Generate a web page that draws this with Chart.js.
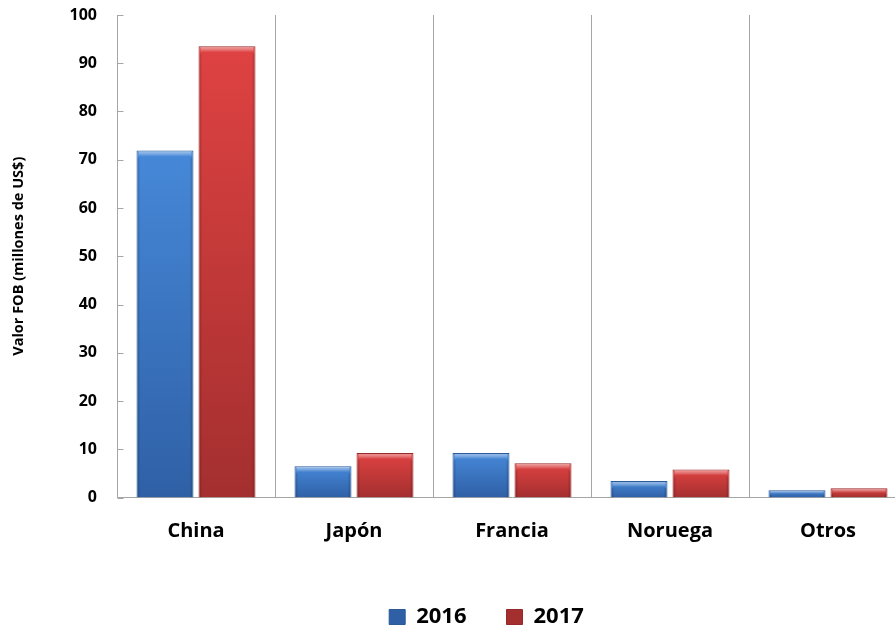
<!DOCTYPE html>
<html>
<head>
<meta charset="utf-8">
<script src="https://cdn.jsdelivr.net/npm/chart.js@4.4.1/dist/chart.umd.min.js"></script>
<style>
  html, body { margin: 0; padding: 0; background: #ffffff; overflow: hidden; width: 895px; height: 631px; }
  #wrap { width: 970px; height: 638px; }
</style>
</head>
<body>
<div id="wrap"><canvas id="c" width="970" height="638"></canvas></div>
<script>
const categories = ['China', 'Japón', 'Francia', 'Noruega', 'Otros'];
const values2016 = [71.9, 6.5, 9.2, 3.4, 1.5];
const values2017 = [93.5, 9.2, 7.1, 5.8, 1.9];
const seriesLabels = ['2016', '2017'];
const yTicks = [0, 10, 20, 30, 40, 50, 60, 70, 80, 90, 100];
const yTitle = 'Valor FOB (millones de US$)';

const FONT = "'Open Sans', 'DejaVu Sans', sans-serif";
const GRID = '#a6a6a6';

function barGradient(topColor, bottomColor, legendColor) {
  return function (ctx) {
    const chart = ctx.chart;
    if (ctx.type !== 'data' || !chart.chartArea || !chart.scales.y) return legendColor;
    const ys = chart.scales.y;
    const yTop = ys.getPixelForValue(ctx.parsed.y);
    const yBase = ys.getPixelForValue(0);
    if (!isFinite(yTop) || !isFinite(yBase) || yBase - yTop < 1) return legendColor;
    const g = chart.ctx.createLinearGradient(0, yTop, 0, yBase);
    g.addColorStop(0, topColor);
    g.addColorStop(1, bottomColor);
    return g;
  };
}

const bevelPlugin = {
  id: 'bevel',
  afterDatasetsDraw(chart) {
    const c = chart.ctx;
    c.save();
    chart.data.datasets.forEach((ds, di) => {
      const meta = chart.getDatasetMeta(di);
      meta.data.forEach(bar => {
        const w = bar.width, x0 = bar.x - w / 2, y0 = bar.y, h = bar.base - bar.y;
        if (h <= 0) return;
        const hh = Math.min(6, h / 2);
        const g = c.createLinearGradient(0, y0, 0, y0 + hh);
        g.addColorStop(0, 'rgba(255,255,255,0.55)');
        g.addColorStop(0.6, 'rgba(255,255,255,0.25)');
        g.addColorStop(1, 'rgba(255,255,255,0.0)');
        c.fillStyle = g;
        c.fillRect(x0 + 2, y0 + 1, w - 4, hh);
        c.fillStyle = 'rgba(0,0,0,0.12)';
        c.fillRect(x0 + 1, y0 + hh + 1, 2, h - hh - 1);
        c.fillRect(x0 + w - 3, y0 + hh + 1, 2, h - hh - 1);
      });
    });
    c.restore();
  }
};

const innerTicksPlugin = {
  id: 'innerTicks',
  beforeDatasetsDraw(chart) {
    const ys = chart.scales.y;
    const c = chart.ctx;
    c.save();
    c.strokeStyle = GRID;
    c.lineWidth = 1;
    ys.ticks.forEach((t, i) => {
      const y = Math.round(ys.getPixelForTick(i)) + 0.5;
      const x = Math.round(ys.right) + 0.5;
      c.beginPath();
      c.moveTo(x, y);
      c.lineTo(x + 6, y);
      c.stroke();
    });
    c.restore();
  }
};

// shift the legend block so it sits where the reference places it
const legendShiftPlugin = {
  id: 'legendShift',
  afterLayout(chart) {
    const lg = chart.legend;
    if (lg) { lg.left += 33; lg.right += 33; }
  }
};

new Chart(document.getElementById('c'), {
  type: 'bar',
  data: {
    labels: categories,
    datasets: [
      {
        label: seriesLabels[0],
        data: values2016,
        backgroundColor: barGradient('#4688d8', '#2f60a6', '#3a78c8'),
        borderColor: '#2c5a98',
        borderWidth: 1,
        categoryPercentage: 0.785,
        barPercentage: 0.919
      },
      {
        label: seriesLabels[1],
        data: values2017,
        backgroundColor: barGradient('#df4242', '#a42f2f', '#c83c3c'),
        borderColor: '#962a2a',
        borderWidth: 1,
        categoryPercentage: 0.785,
        barPercentage: 0.919
      }
    ]
  },
  options: {
    responsive: false,
    animation: false,
    devicePixelRatio: 1,
    layout: { padding: { top: 15, right: 63, left: 0, bottom: 0 } },
    plugins: {
      tooltip: { enabled: false },
      legend: {
        position: 'bottom',
        labels: {
          font: { family: FONT, size: 22, weight: 'bold' },
          color: '#000000',
          boxWidth: 16,
          boxHeight: 15,
          padding: 40
        }
      }
    },
    scales: {
      x: {
        grid: { display: true, offset: true, drawTicks: false, color: GRID, lineWidth: 1 },
        border: { display: true, color: GRID, width: 1 },
        ticks: {
          font: { family: FONT, size: 20, weight: 'bold' },
          color: '#000000',
          padding: 22
        },
        afterFit(scale) { scale.height = 68.5; }
      },
      y: {
        min: 0,
        max: 100,
        afterBuildTicks(scale) { scale.ticks = yTicks.map(v => ({ value: v })); },
        grid: { display: false, drawTicks: false },
        border: { display: true, color: GRID, width: 1 },
        ticks: {
          font: { family: FONT, size: 16, weight: 'bold' },
          color: '#000000',
          padding: 20
        },
        title: {
          display: true,
          text: yTitle,
          font: { family: FONT, size: 14.5, weight: 'bold' },
          color: '#000000',
          padding: { top: 10, bottom: 0 }
        },
        afterFit(scale) { scale.width = 117; scale.paddingTop = 0; scale.paddingBottom = 0; }
      }
    }
  },
  plugins: [innerTicksPlugin, bevelPlugin, legendShiftPlugin]
});
</script>
</body>
</html>
